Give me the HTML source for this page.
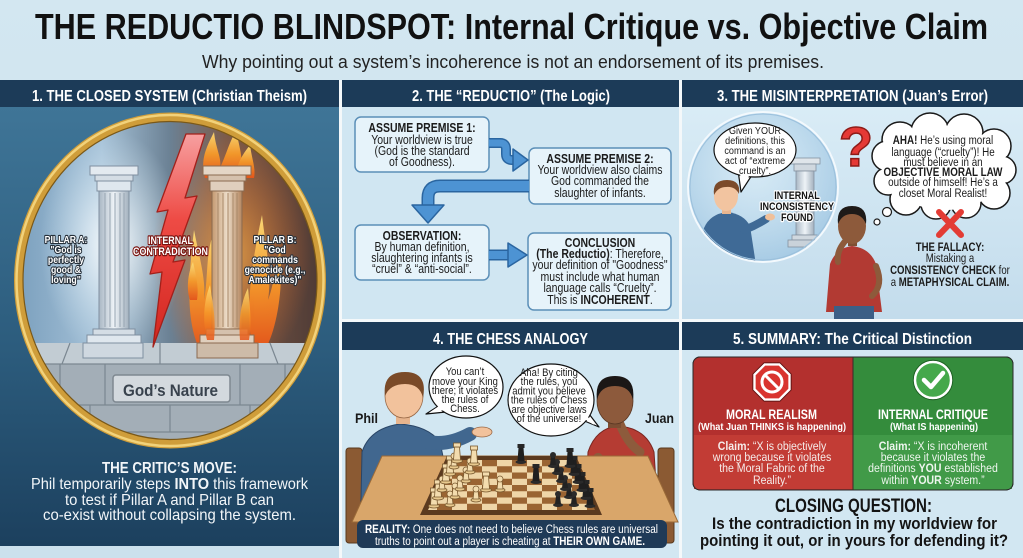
<!DOCTYPE html>
<html><head><meta charset="utf-8">
<style>
html,body{margin:0;padding:0;background:#cfe3ee;width:1023px;height:558px;overflow:hidden;}
svg{display:block;font-family:"Liberation Sans",Arial,sans-serif;}
</style></head><body>
<svg width="1023" height="558" viewBox="0 0 1023 558" xmlns="http://www.w3.org/2000/svg">
<defs>
 <linearGradient id="pageBg" x1="0" y1="0" x2="0" y2="1"><stop offset="0" stop-color="#d3e7f1"/><stop offset="1" stop-color="#c9e0ec"/></linearGradient>
 <linearGradient id="p1bg" x1="0" y1="0" x2="0" y2="1"><stop offset="0" stop-color="#3f7597"/><stop offset="0.55" stop-color="#2c5c7d"/><stop offset="1" stop-color="#1c405e"/></linearGradient>
 <linearGradient id="p3bg" x1="0" y1="0" x2="0" y2="1"><stop offset="0" stop-color="#d9ecf6"/><stop offset="1" stop-color="#c3dcec"/></linearGradient>
 <linearGradient id="circBg" x1="0" y1="0" x2="1" y2="0">
   <stop offset="0" stop-color="#7a9fbd"/><stop offset="0.28" stop-color="#a6c2d8"/><stop offset="0.5" stop-color="#6b8194"/><stop offset="0.68" stop-color="#7c5b4a"/><stop offset="1" stop-color="#4c3934"/>
 </linearGradient>
 <radialGradient id="glowA"><stop offset="0" stop-color="#ffffff" stop-opacity="0.95"/><stop offset="1" stop-color="#d7ecf8" stop-opacity="0"/></radialGradient>
 <radialGradient id="glowB"><stop offset="0" stop-color="#ffb347" stop-opacity="0.95"/><stop offset="1" stop-color="#ff6a1a" stop-opacity="0"/></radialGradient>
 <linearGradient id="flame" x1="0" y1="1" x2="0" y2="0"><stop offset="0" stop-color="#e8561a"/><stop offset="0.5" stop-color="#f79a2a"/><stop offset="1" stop-color="#ffe07a"/></linearGradient>
 <linearGradient id="shaftA" x1="0" y1="0" x2="1" y2="0"><stop offset="0" stop-color="#a9b7c4"/><stop offset="0.5" stop-color="#eef3f7"/><stop offset="1" stop-color="#a3b1be"/></linearGradient>
 <linearGradient id="shaftB" x1="0" y1="0" x2="1" y2="0"><stop offset="0" stop-color="#c59a72"/><stop offset="0.5" stop-color="#ecdcc8"/><stop offset="1" stop-color="#b48660"/></linearGradient>
 <linearGradient id="bolt" x1="0" y1="0" x2="0" y2="1"><stop offset="0" stop-color="#f7a0a0"/><stop offset="0.4" stop-color="#ee4b45"/><stop offset="1" stop-color="#d3261f"/></linearGradient>
 <radialGradient id="sphere" cx="0.45" cy="0.4" r="0.6"><stop offset="0" stop-color="#d9ecf7" stop-opacity="0.5"/><stop offset="1" stop-color="#9fc6e2" stop-opacity="0.8"/></radialGradient>
 <clipPath id="circClip"><ellipse cx="170" cy="280.5" rx="148" ry="160"/></clipPath>
 <clipPath id="sphClip"><circle cx="763" cy="187" r="74"/></clipPath>
 <pattern id="chk" x="452" y="460" width="30" height="12.5" patternUnits="userSpaceOnUse">
   <rect width="30" height="12.5" fill="#efd6a8"/><rect width="15" height="6.25" fill="#9a6432"/><rect x="15" y="6.25" width="15" height="6.25" fill="#9a6432"/>
 </pattern>
 <g id="wp"><ellipse cx="0" cy="0" rx="5" ry="2" fill="#e8c98e" stroke="#7a5a30" stroke-width="0.8"/><path d="M-3,-1 L-2,-9 L2,-9 L3,-1Z" fill="#f3dcae" stroke="#7a5a30" stroke-width="0.8"/><circle cx="0" cy="-11" r="3" fill="#f3dcae" stroke="#7a5a30" stroke-width="0.8"/></g>
 <g id="wk"><ellipse cx="0" cy="0" rx="5.5" ry="2" fill="#e8c98e" stroke="#7a5a30" stroke-width="0.8"/><path d="M-3.5,-1 L-2.5,-14 L2.5,-14 L3.5,-1Z" fill="#f3dcae" stroke="#7a5a30" stroke-width="0.8"/><rect x="-3.5" y="-18" width="7" height="4" fill="#f3dcae" stroke="#7a5a30" stroke-width="0.8"/></g>
 <g id="bp"><ellipse cx="0" cy="0" rx="5" ry="2" fill="#2a2a2a"/><path d="M-3,-1 L-2,-9 L2,-9 L3,-1Z" fill="#222"/><circle cx="0" cy="-11" r="3" fill="#2b2b2b"/></g>
 <g id="bk"><ellipse cx="0" cy="0" rx="5.5" ry="2" fill="#2a2a2a"/><path d="M-3.5,-1 L-2.5,-14 L2.5,-14 L3.5,-1Z" fill="#1f1f1f"/><rect x="-3.5" y="-18" width="7" height="4" fill="#262626"/></g>
</defs>

<!-- page background -->
<rect x="0" y="0" width="1023" height="558" fill="url(#pageBg)"/>
<rect x="0" y="80" width="1023" height="478" fill="#f4f8fa"/>
<rect x="0" y="546" width="339" height="12" fill="#cbe1ed"/>

<!-- Title -->
<text x="35" y="39" font-size="36" font-weight="bold" fill="#111" textLength="953" lengthAdjust="spacingAndGlyphs">THE REDUCTIO BLINDSPOT: Internal Critique vs. Objective Claim</text>
<text x="202" y="68" font-size="18" fill="#222" textLength="622" lengthAdjust="spacingAndGlyphs">Why pointing out a system’s incoherence is not an endorsement of its premises.</text>

<!-- ================= PANEL 1 ================= -->
<rect x="0" y="80" width="339" height="27" fill="#1c3b58"/>
<rect x="0" y="107" width="339" height="439" fill="url(#p1bg)"/>
<text x="32" y="101" font-size="16" font-weight="bold" fill="#fff" textLength="275" lengthAdjust="spacingAndGlyphs">1. THE CLOSED SYSTEM (Christian Theism)</text>

<g clip-path="url(#circClip)">
  <rect x="15" y="113" width="310" height="340" fill="url(#circBg)"/>
  <ellipse cx="112" cy="245" rx="72" ry="115" fill="url(#glowA)"/>
  <ellipse cx="232" cy="255" rx="80" ry="120" fill="url(#glowB)" opacity="0.75"/>
  <!-- flames -->
  <g fill="url(#flame)" opacity="0.95">
    <path d="M199,348 C186,320 188,280 194,230 C200,260 206,280 204,300 C208,280 206,255 212,238 C214,280 212,320 210,348Z"/>
    <path d="M252,348 C246,310 250,270 262,215 C266,250 272,275 268,300 C274,285 276,262 280,250 C284,290 276,330 266,348Z"/>
    <path d="M205,178 C200,160 206,148 214,132 C216,150 222,158 220,168 C226,155 228,146 236,130 C240,150 244,160 240,178Z"/>
    <path d="M236,178 C236,165 242,155 250,145 C252,160 256,168 254,178Z"/>
    <path d="M190,300 C186,290 188,272 193,262 C196,276 199,286 197,300Z"/>
  </g>
  <!-- floor -->
  <rect x="15" y="343" width="310" height="115" fill="#a3aeb7"/>
  <rect x="15" y="343" width="310" height="21" fill="#c2ccd3"/>
  <g stroke="#7b8791" stroke-width="1.2" fill="none">
    <line x1="15" y1="364" x2="325" y2="364"/>
    <line x1="15" y1="405" x2="325" y2="405"/>
    <line x1="15" y1="432" x2="325" y2="432"/>
    <line x1="60" y1="364" x2="60" y2="405"/><line x1="105" y1="364" x2="105" y2="405"/><line x1="240" y1="364" x2="240" y2="405"/><line x1="285" y1="364" x2="285" y2="405"/>
    <line x1="40" y1="405" x2="40" y2="432"/><line x1="90" y1="405" x2="90" y2="432"/><line x1="170" y1="405" x2="170" y2="432"/><line x1="250" y1="405" x2="250" y2="432"/><line x1="300" y1="405" x2="300" y2="432"/>
    <line x1="70" y1="343" x2="62" y2="364"/><line x1="160" y1="343" x2="160" y2="364"/><line x1="270" y1="343" x2="278" y2="364"/>
  </g>
  <!-- Pillar A -->
  <g stroke="#7f8fa0" stroke-width="1">
    <rect x="90" y="166" width="48" height="9" fill="#e3eaf0"/>
    <rect x="95" y="175" width="38" height="6" fill="#d4dde5"/>
    <rect x="97" y="181" width="34" height="10" fill="#dfe7ee"/>
    <rect x="99" y="191" width="30" height="138" fill="url(#shaftA)"/>
    <rect x="93" y="329" width="42" height="6" fill="#d4dde5"/>
    <rect x="87" y="335" width="54" height="8" fill="#dfe7ee"/>
    <rect x="83" y="343" width="60" height="15" fill="#cfd8e0"/>
  </g>
  <g stroke="#97a5b2" stroke-width="1"><line x1="105" y1="193" x2="105" y2="327"/><line x1="110" y1="193" x2="110" y2="327"/><line x1="115" y1="193" x2="115" y2="327"/><line x1="120" y1="193" x2="120" y2="327"/><line x1="124" y1="193" x2="124" y2="327"/></g>
  <!-- Pillar B -->
  <g stroke="#8a6a50" stroke-width="1">
    <rect x="203" y="166" width="48" height="9" fill="#e4d6c6"/>
    <rect x="208" y="175" width="38" height="6" fill="#d5c1ad"/>
    <rect x="210" y="181" width="34" height="10" fill="#e0cfbd"/>
    <rect x="212" y="191" width="30" height="138" fill="url(#shaftB)"/>
    <rect x="206" y="329" width="42" height="6" fill="#d5c1ad"/>
    <rect x="200" y="335" width="54" height="8" fill="#e0cfbd"/>
    <rect x="197" y="343" width="61" height="15" fill="#cdbba8"/>
  </g>
  <g stroke="#a88868" stroke-width="1"><line x1="218" y1="193" x2="218" y2="327"/><line x1="223" y1="193" x2="223" y2="327"/><line x1="228" y1="193" x2="228" y2="327"/><line x1="233" y1="193" x2="233" y2="327"/><line x1="237" y1="193" x2="237" y2="327"/></g>
  <g fill="url(#flame)" opacity="0.85">
    <path d="M207,340 C202,320 204,300 210,285 C213,305 216,318 214,340Z"/>
    <path d="M240,340 C238,318 242,300 248,288 C250,308 252,322 249,340Z"/>
  </g>
  <!-- Lightning -->
  <polygon points="186,134 205,134 185,198 197,196 173,262 185,260 153,347 162,272 150,274 168,210 157,212" fill="url(#bolt)" stroke="#a3201a" stroke-width="1.3" stroke-linejoin="round"/>
  <!-- plaque -->
  <rect x="113" y="375" width="117" height="27" rx="3" fill="#d3d9de" stroke="#7e8890" stroke-width="1.5"/>
  <text x="123" y="396" font-size="17" font-weight="bold" fill="#38424d" textLength="95" lengthAdjust="spacingAndGlyphs">God’s Nature</text>
</g>
<!-- gold ring -->
<ellipse cx="170" cy="280.5" rx="151.5" ry="163.5" fill="none" stroke="#cf9d3a" stroke-width="9"/>
<ellipse cx="170" cy="280.5" rx="153.5" ry="165.5" fill="none" stroke="#f2d27a" stroke-width="2.5"/>
<ellipse cx="170" cy="280.5" rx="147" ry="159" fill="none" stroke="#7a5818" stroke-width="1.2"/>

<!-- pillar labels -->
<g font-weight="bold" font-size="10" fill="#fff" stroke="#26303a" stroke-width="2.2" paint-order="stroke" stroke-linejoin="round" text-anchor="middle">
  <g transform="translate(66,0) scale(0.87,1)">
    <text x="0" y="243">PILLAR A:</text><text x="0" y="253">"God is</text><text x="0" y="263">perfectly</text><text x="0" y="273">good &amp;</text><text x="0" y="283">loving"</text>
  </g>
  <g transform="translate(275,0) scale(0.87,1)">
    <text x="0" y="243">PILLAR B:</text><text x="0" y="253">"God</text><text x="0" y="263">commands</text><text x="0" y="273">genocide (e.g.,</text><text x="0" y="283">Amalekites)"</text>
  </g>
</g>
<g font-weight="bold" font-size="11" fill="#fff" stroke="#7a1410" stroke-width="2.4" paint-order="stroke" stroke-linejoin="round">
  <text x="148" y="244" textLength="45" lengthAdjust="spacingAndGlyphs">INTERNAL</text>
  <text x="133" y="255" textLength="75" lengthAdjust="spacingAndGlyphs">CONTRADICTION</text>
</g>

<!-- critic's move -->
<g fill="#f2f6f9">
  <text x="102" y="473" font-size="16" font-weight="bold" textLength="135" lengthAdjust="spacingAndGlyphs">THE CRITIC’S MOVE:</text>
  <text x="31" y="489" font-size="16" textLength="277" lengthAdjust="spacingAndGlyphs">Phil temporarily steps <tspan font-weight="bold">INTO</tspan> this framework</text>
  <text x="65" y="505" font-size="16" textLength="209" lengthAdjust="spacingAndGlyphs">to test if Pillar A and Pillar B can</text>
  <text x="43" y="520" font-size="16" textLength="253" lengthAdjust="spacingAndGlyphs">co-exist without collapsing the system.</text>
</g>

<!-- ================= PANEL 2 ================= -->
<rect x="342" y="80" width="337" height="27" fill="#1c3b58"/>
<rect x="342" y="107" width="337" height="212" fill="#d0e6f2"/>
<text x="412" y="101" font-size="16" font-weight="bold" fill="#fff" textLength="198" lengthAdjust="spacingAndGlyphs">2. THE “REDUCTIO” (The Logic)</text>

<g fill="#e6f3fa" stroke="#5b8fb8" stroke-width="1.5">
  <rect x="355" y="117" width="134" height="55" rx="6"/>
  <rect x="529" y="148" width="142" height="56" rx="6"/>
  <rect x="355" y="225" width="134" height="55" rx="6"/>
  <rect x="528" y="233" width="143" height="77" rx="6"/>
</g>
<!-- arrows -->
<g fill="none" stroke-linecap="butt">
  <path d="M489,143 H500 Q506,143 506,149 V154 Q506,160 512,160 H516" stroke="#2a65a0" stroke-width="10"/>
  <path d="M489,143 H500 Q506,143 506,149 V154 Q506,160 512,160 H516" stroke="#4d93d3" stroke-width="7"/>
  <path d="M529,186 H440 Q428,186 428,198 V207" stroke="#2a65a0" stroke-width="13"/>
  <path d="M529,186 H440 Q428,186 428,198 V207" stroke="#4d93d3" stroke-width="10"/>
  <path d="M489,255 H510" stroke="#2a65a0" stroke-width="11"/>
  <path d="M489,255 H510" stroke="#4d93d3" stroke-width="8"/>
</g>
<g fill="#4d93d3" stroke="#2a65a0" stroke-width="1.5" stroke-linejoin="round">
  <polygon points="513,149 528,160 513,171"/>
  <polygon points="412,205 444,205 428,223"/>
  <polygon points="508,243 527,255 508,267"/>
</g>
<g font-size="12.5" fill="#1b1b1b" text-anchor="middle">
  <g transform="translate(422,0) scale(0.84,1)">
    <text x="0" y="132" font-weight="bold">ASSUME PREMISE 1:</text>
    <text x="0" y="144">Your worldview is true</text>
    <text x="0" y="155">(God is the standard</text>
    <text x="0" y="166">of Goodness).</text>
  </g>
  <g transform="translate(600,0) scale(0.84,1)">
    <text x="0" y="163" font-weight="bold">ASSUME PREMISE 2:</text>
    <text x="0" y="174">Your worldview also claims</text>
    <text x="0" y="185">God commanded the</text>
    <text x="0" y="197">slaughter of infants.</text>
  </g>
  <g transform="translate(422,0) scale(0.84,1)">
    <text x="0" y="240" font-weight="bold">OBSERVATION:</text>
    <text x="0" y="251">By human definition,</text>
    <text x="0" y="262">slaughtering infants is</text>
    <text x="0" y="273">“cruel” &amp; “anti-social”.</text>
  </g>
  <g transform="translate(600,0) scale(0.84,1)">
    <text x="0" y="247" font-weight="bold">CONCLUSION</text>
    <text x="0" y="258"><tspan font-weight="bold">(The Reductio)</tspan>: Therefore,</text>
    <text x="0" y="269">your definition of "Goodness"</text>
    <text x="0" y="281">must include what human</text>
    <text x="0" y="292">language calls “Cruelty”.</text>
    <text x="0" y="304">This is <tspan font-weight="bold">INCOHERENT</tspan>.</text>
  </g>
</g>

<!-- ================= PANEL 3 ================= -->
<rect x="682" y="80" width="341" height="27" fill="#1c3b58"/>
<rect x="682" y="107" width="341" height="212" fill="url(#p3bg)"/>
<text x="717" y="101" font-size="16" font-weight="bold" fill="#fff" textLength="271" lengthAdjust="spacingAndGlyphs">3. THE MISINTERPRETATION (Juan’s Error)</text>

<!-- sphere -->
<circle cx="763" cy="187" r="75" fill="url(#sphere)"/>
<g clip-path="url(#sphClip)">
  <!-- small pillar -->
  <g stroke="#8492a0" stroke-width="0.8">
    <rect x="790" y="158" width="30" height="6" fill="#dfe5ea"/>
    <rect x="794" y="164" width="22" height="7" fill="#d0d8df"/>
    <rect x="796" y="171" width="18" height="64" fill="url(#shaftA)"/>
    <rect x="792" y="235" width="26" height="5" fill="#d0d8df"/>
    <rect x="788" y="240" width="34" height="7" fill="#c9d2da"/>
  </g>
  <!-- Phil small -->
  <path d="M700,265 L704,228 Q710,214 727,212 Q744,214 750,226 L756,265 Z" fill="#3f6a96"/>
  <path d="M744,230 Q755,226 766,219" stroke="#3f6a96" stroke-width="8" fill="none" stroke-linecap="round"/>
  <ellipse cx="770" cy="217" rx="5" ry="3.5" fill="#f0c09a"/>
  <rect x="722" y="206" width="9" height="8" fill="#e9b68f"/>
  <ellipse cx="726" cy="196" rx="12" ry="15" fill="#f2c4a0"/>
  <path d="M714,195 Q712,180 727,180 Q741,180 739,194 Q735,186 726,187 Q718,187 714,195Z" fill="#7b4a2a"/>
</g>
<circle cx="763" cy="187" r="75" fill="none" stroke="#f3f9fd" stroke-width="2"/>
<circle cx="763" cy="187" r="73" fill="none" stroke="#9bc0dc" stroke-width="1"/>
<!-- speech bubble -->
<polygon points="738,170 741,192 752,175" fill="#fff" stroke="#111" stroke-width="1.2" stroke-linejoin="round"/>
<ellipse cx="755" cy="150" rx="41" ry="27" fill="#fff" stroke="#111" stroke-width="1.2"/>
<polygon points="739.5,171 742,186 750.5,174" fill="#fff"/>
<g font-size="10.5" fill="#1b1b1b" text-anchor="middle" transform="translate(755,0) scale(0.86,1)">
  <text x="0" y="134">Given YOUR</text>
  <text x="0" y="144">definitions, this</text>
  <text x="0" y="154">command is an</text>
  <text x="0" y="164">act of “extreme</text>
  <text x="0" y="174">cruelty”.</text>
</g>
<g font-size="11" font-weight="bold" fill="#111" stroke="#fff" stroke-width="2.5" paint-order="stroke" stroke-linejoin="round" text-anchor="middle" transform="translate(797,0) scale(0.82,1)">
  <text x="0" y="199">INTERNAL</text>
  <text x="0" y="210">INCONSISTENCY</text>
  <text x="0" y="221">FOUND</text>
</g>

<!-- question mark -->
<text x="856" y="166" font-size="56" font-weight="bold" fill="#e53935" stroke="#8e1b17" stroke-width="1.5" text-anchor="middle">?</text>

<!-- thought cloud -->
<g fill="#fff" stroke="#1a1a1a" stroke-width="1.5">
  <circle cx="900" cy="140" r="18"/><circle cx="930" cy="132" r="19"/><circle cx="964" cy="133" r="19"/><circle cx="994" cy="146" r="17"/><circle cx="1002" cy="170" r="14"/><circle cx="994" cy="193" r="16"/><circle cx="966" cy="203" r="15"/><circle cx="936" cy="204" r="15"/><circle cx="906" cy="199" r="16"/><circle cx="888" cy="181" r="14"/><circle cx="887" cy="156" r="15"/>
</g>
<g fill="#fff">
  <circle cx="900" cy="140" r="17"/><circle cx="930" cy="132" r="18"/><circle cx="964" cy="133" r="18"/><circle cx="994" cy="146" r="16"/><circle cx="1002" cy="170" r="13"/><circle cx="994" cy="193" r="15"/><circle cx="966" cy="203" r="14"/><circle cx="936" cy="204" r="14"/><circle cx="906" cy="199" r="15"/><circle cx="888" cy="181" r="13"/><circle cx="887" cy="156" r="14"/>
  <ellipse cx="945" cy="168" rx="60" ry="42"/>
</g>
<circle cx="887" cy="212" r="4.5" fill="#fff" stroke="#1a1a1a" stroke-width="1.2"/>
<circle cx="877" cy="222" r="3" fill="#fff" stroke="#1a1a1a" stroke-width="1.2"/>
<g font-size="12" fill="#1b1b1b" text-anchor="middle" transform="translate(943,0) scale(0.82,1)">
  <text x="0" y="144"><tspan font-weight="bold">AHA!</tspan> He’s using moral</text>
  <text x="0" y="156">language (“cruelty”)! He</text>
  <text x="0" y="166">must believe in an</text>
  <text x="0" y="176" font-weight="bold">OBJECTIVE MORAL LAW</text>
  <text x="0" y="186">outside of himself! He’s a</text>
  <text x="0" y="197">closet Moral Realist!</text>
</g>
<!-- red X -->
<g stroke="#e33b34" stroke-width="6" stroke-linecap="round">
  <line x1="939" y1="212" x2="961" y2="235"/><line x1="961" y1="212" x2="939" y2="235"/>
</g>
<g font-size="12" fill="#1b1b1b" text-anchor="middle" transform="translate(950,0) scale(0.8,1)">
  <text x="0" y="251" font-weight="bold">THE FALLACY:</text>
  <text x="0" y="262">Mistaking a</text>
  <text x="0" y="274"><tspan font-weight="bold">CONSISTENCY CHECK</tspan> for</text>
  <text x="0" y="286">a <tspan font-weight="bold">METAPHYSICAL CLAIM.</tspan></text>
</g>
<!-- Juan small -->
<path d="M826,312 L830,264 Q836,248 852,246 Q870,248 876,264 L882,312 Z" fill="#b23a33"/>
<rect x="834" y="306" width="40" height="13" fill="#3c5f86"/>
<path d="M838,262 Q836,250 848,238" stroke="#8d5a3b" stroke-width="6" fill="none" stroke-linecap="round"/>
<path d="M876,266 Q884,285 872,296" stroke="#8d5a3b" stroke-width="6" fill="none" stroke-linecap="round"/>
<rect x="848" y="236" width="9" height="10" fill="#7e4f33"/>
<ellipse cx="852" cy="226" rx="14" ry="18" fill="#8d5a3b"/>
<path d="M838,224 Q836,206 852,206 Q868,206 866,224 Q862,214 852,214 Q842,214 838,224Z" fill="#1e1a18"/>
<circle cx="849" cy="239" r="4" fill="#8d5a3b"/>

<!-- ================= PANEL 4 ================= -->
<rect x="342" y="322" width="337" height="28" fill="#1c3b58"/>
<rect x="342" y="350" width="337" height="208" fill="#d2e7f2"/>
<text x="433" y="344" font-size="16" font-weight="bold" fill="#fff" textLength="155" lengthAdjust="spacingAndGlyphs">4. THE CHESS ANALOGY</text>

<!-- chairs -->
<rect x="346" y="448" width="16" height="95" rx="3" fill="#8b5a33" stroke="#5a3a1e" stroke-width="1"/>
<rect x="658" y="448" width="16" height="95" rx="3" fill="#8b5a33" stroke="#5a3a1e" stroke-width="1"/>
<!-- Phil -->
<path d="M360,545 L362,452 Q370,428 400,424 Q428,426 440,442 L452,500 L446,545 Z" fill="#41678f" stroke="#2a4566" stroke-width="1"/>
<path d="M428,442 Q448,446 470,434" stroke="#41678f" stroke-width="14" fill="none" stroke-linecap="round"/>
<ellipse cx="482" cy="432" rx="10" ry="5" fill="#f2c29c" stroke="#9a6a48" stroke-width="0.8"/>
<path d="M382,468 Q394,494 418,494" stroke="#41678f" stroke-width="13" fill="none" stroke-linecap="round"/>
<circle cx="426" cy="494" r="6.5" fill="#f2c29c" stroke="#9a6a48" stroke-width="0.8"/>
<rect x="396" y="410" width="14" height="14" fill="#e7b48d"/>
<ellipse cx="404" cy="396" rx="19" ry="22" fill="#f2c29c" stroke="#9a6a48" stroke-width="0.8"/>
<path d="M385,396 Q382,372 405,372 Q428,372 423,398 Q420,384 405,384 Q390,384 385,396Z" fill="#7a4a28"/>
<!-- Juan -->
<path d="M584,545 L588,452 Q596,428 618,426 Q646,428 654,452 L660,545 Z" fill="#b53c33" stroke="#7a2620" stroke-width="1"/>
<path d="M598,458 Q584,482 600,492 L640,492" stroke="#8d5b3c" stroke-width="10" fill="none" stroke-linecap="round"/>
<path d="M640,452 Q628,444 620,424" stroke="#8d5b3c" stroke-width="9" fill="none" stroke-linecap="round"/>
<rect x="608" y="414" width="13" height="14" fill="#7c4e33"/>
<ellipse cx="615" cy="401" rx="18" ry="23" fill="#8d5a3c" stroke="#5a3824" stroke-width="0.8"/>
<path d="M597,400 Q594,376 615,376 Q636,376 633,400 Q630,386 615,386 Q600,386 597,400Z" fill="#1b1716"/>
<!-- table -->
<polygon points="382,456 648,456 678,522 352,522" fill="#d9a66a" stroke="#9a6a38" stroke-width="1"/>
<!-- board -->
<polygon points="447,456 576,456 602,515 420,515" fill="#5b3a1f"/>
<polygon points="452,460 571,460 595,510 428,510" fill="url(#chk)"/>
<!-- pieces -->
<use href="#wk" x="434" y="506"/><use href="#wk" x="438" y="498"/><use href="#wp" x="442" y="490"/><use href="#wk" x="446" y="482"/><use href="#wk" x="450" y="474"/><use href="#wp" x="454" y="467"/><use href="#wk" x="457" y="461"/>
<use href="#wp" x="450" y="505"/><use href="#wp" x="455" y="497"/><use href="#wp" x="460" y="489"/><use href="#wp" x="466" y="481"/><use href="#wp" x="470" y="472"/><use href="#wk" x="474" y="464"/>
<use href="#wk" x="486" y="490"/><use href="#wp" x="500" y="490"/><use href="#wp" x="476" y="500"/>
<use href="#bk" x="521" y="462"/><use href="#bk" x="536" y="482"/>
<use href="#bk" x="590" y="506"/><use href="#bk" x="586" y="498"/><use href="#bk" x="582" y="490"/><use href="#bk" x="578" y="482"/><use href="#bk" x="574" y="474"/><use href="#bk" x="570" y="466"/>
<use href="#bp" x="574" y="505"/><use href="#bp" x="569" y="497"/><use href="#bp" x="565" y="489"/><use href="#bp" x="561" y="481"/><use href="#bp" x="557" y="473"/><use href="#bp" x="553" y="466"/><use href="#bp" x="558" y="505"/>
<!-- speech bubbles -->
<polygon points="440,405 426,414 446,412" fill="#fff" stroke="#111" stroke-width="1.2" stroke-linejoin="round"/>
<ellipse cx="466" cy="387" rx="37" ry="31" fill="#fff" stroke="#111" stroke-width="1.2"/>
<polygon points="439,406 430,412 446,410" fill="#fff"/>
<polygon points="582,420 599,427 586,410" fill="#fff" stroke="#111" stroke-width="1.2" stroke-linejoin="round"/>
<ellipse cx="551" cy="400" rx="43" ry="36" fill="#fff" stroke="#111" stroke-width="1.2"/>
<polygon points="583,418 594,425 585,413" fill="#fff"/>
<g font-size="11" fill="#1b1b1b" text-anchor="middle" transform="translate(465,0) scale(0.86,1)">
  <text x="0" y="375">You can’t</text>
  <text x="0" y="385">move your King</text>
  <text x="0" y="394">there; it violates</text>
  <text x="0" y="403">the rules of</text>
  <text x="0" y="412">Chess.</text>
</g>
<g font-size="11" fill="#1b1b1b" text-anchor="middle" transform="translate(549,0) scale(0.86,1)">
  <text x="0" y="376">Aha! By citing</text>
  <text x="0" y="385">the rules, you</text>
  <text x="0" y="394.5">admit you believe</text>
  <text x="0" y="403.5">the rules of Chess</text>
  <text x="0" y="413">are objective laws</text>
  <text x="0" y="422">of the universe!</text>
</g>
<text x="355" y="423" font-size="14" font-weight="bold" fill="#1a1a1a" textLength="23" lengthAdjust="spacingAndGlyphs">Phil</text>
<text x="645" y="423" font-size="14" font-weight="bold" fill="#1a1a1a" textLength="29" lengthAdjust="spacingAndGlyphs">Juan</text>
<!-- reality box -->
<rect x="357" y="520" width="310" height="28" rx="6" fill="#1f3a57"/>
<g font-size="11.5" fill="#fff">
  <text x="365" y="533" textLength="293" lengthAdjust="spacingAndGlyphs"><tspan font-weight="bold">REALITY:</tspan> One does not need to believe Chess rules are universal</text>
  <text x="375" y="545" textLength="270" lengthAdjust="spacingAndGlyphs">truths to point out a player is cheating at <tspan font-weight="bold">THEIR OWN GAME.</tspan></text>
</g>

<!-- ================= PANEL 5 ================= -->
<rect x="682" y="322" width="341" height="28" fill="#1c3b58"/>
<rect x="682" y="350" width="341" height="208" fill="#d2e7f2"/>
<text x="733" y="344" font-size="16" font-weight="bold" fill="#fff" textLength="239" lengthAdjust="spacingAndGlyphs">5. SUMMARY: The Critical Distinction</text>

<rect x="693" y="357" width="320" height="133" rx="7" fill="#3e9444" stroke="#2a2a2a" stroke-width="1"/>
<path d="M700,357 H853 V490 H700 Q693,490 693,483 V364 Q693,357 700,357Z" fill="#b3302e"/>
<rect x="694" y="435" width="159" height="54" fill="#c23c35"/>
<path d="M853,357 H1006 Q1013,357 1013,364 V435 H853Z" fill="#348c3c"/>
<rect x="853" y="435" width="159" height="54" fill="#419a48"/>
<rect x="693" y="357" width="320" height="133" rx="7" fill="none" stroke="#2a2a2a" stroke-width="1"/>
<line x1="853" y1="357" x2="853" y2="490" stroke="#3a2a2a" stroke-width="1"/>
<!-- stop sign -->
<polygon points="764.7,364.4 779.3,364.4 789.6,374.7 789.6,389.3 779.3,399.6 764.7,399.6 754.4,389.3 754.4,374.7" fill="#d9342f" stroke="#fff" stroke-width="2.5"/>
<polygon points="764.7,364.4 779.3,364.4 789.6,374.7 789.6,389.3 779.3,399.6 764.7,399.6 754.4,389.3 754.4,374.7" fill="none" stroke="#5a1010" stroke-width="0.8" transform="translate(772,382) scale(1.09) translate(-772,-382)"/>
<circle cx="772" cy="382" r="10" fill="none" stroke="#fff" stroke-width="3"/>
<line x1="765" y1="375" x2="779" y2="389" stroke="#fff" stroke-width="3"/>
<!-- check -->
<circle cx="933" cy="380" r="18" fill="#45a84b" stroke="#fff" stroke-width="2.5"/>
<circle cx="933" cy="380" r="19.8" fill="none" stroke="#1e5a22" stroke-width="0.8"/>
<path d="M924,380 L931,387 L943,373" stroke="#fff" stroke-width="4.5" fill="none" stroke-linecap="round" stroke-linejoin="round"/>
<g fill="#fff" font-weight="bold">
  <text x="726" y="419" font-size="13.5" textLength="91" lengthAdjust="spacingAndGlyphs">MORAL REALISM</text>
  <text x="698" y="430" font-size="10.5" textLength="148" lengthAdjust="spacingAndGlyphs">(What Juan THINKS is happening)</text>
  <text x="878" y="419" font-size="13.5" textLength="110" lengthAdjust="spacingAndGlyphs">INTERNAL CRITIQUE</text>
  <text x="890" y="430" font-size="10.5" textLength="88" lengthAdjust="spacingAndGlyphs">(What IS happening)</text>
</g>
<g font-size="12" fill="#f6ecea" text-anchor="middle" transform="translate(772,0) scale(0.88,1)">
  <text x="0" y="450"><tspan font-weight="bold">Claim:</tspan> “X is objectively</text>
  <text x="0" y="461">wrong because it violates</text>
  <text x="0" y="472">the Moral Fabric of the</text>
  <text x="0" y="484">Reality.”</text>
</g>
<g font-size="12" fill="#eef6ee" text-anchor="middle" transform="translate(933,0) scale(0.88,1)">
  <text x="0" y="450"><tspan font-weight="bold">Claim:</tspan> “X is incoherent</text>
  <text x="0" y="461">because it violates the</text>
  <text x="0" y="472">definitions <tspan font-weight="bold">YOU</tspan> established</text>
  <text x="0" y="484">within <tspan font-weight="bold">YOUR</tspan> system.”</text>
</g>
<g fill="#141414" font-weight="bold">
  <text x="775" y="512" font-size="19" textLength="157" lengthAdjust="spacingAndGlyphs">CLOSING QUESTION:</text>
  <text x="712" y="529" font-size="16.5" textLength="285" lengthAdjust="spacingAndGlyphs">Is the contradiction in my worldview for</text>
  <text x="700" y="546" font-size="16.5" textLength="308" lengthAdjust="spacingAndGlyphs">pointing it out, or in yours for defending it?</text>
</g>
</svg>
</body></html>
